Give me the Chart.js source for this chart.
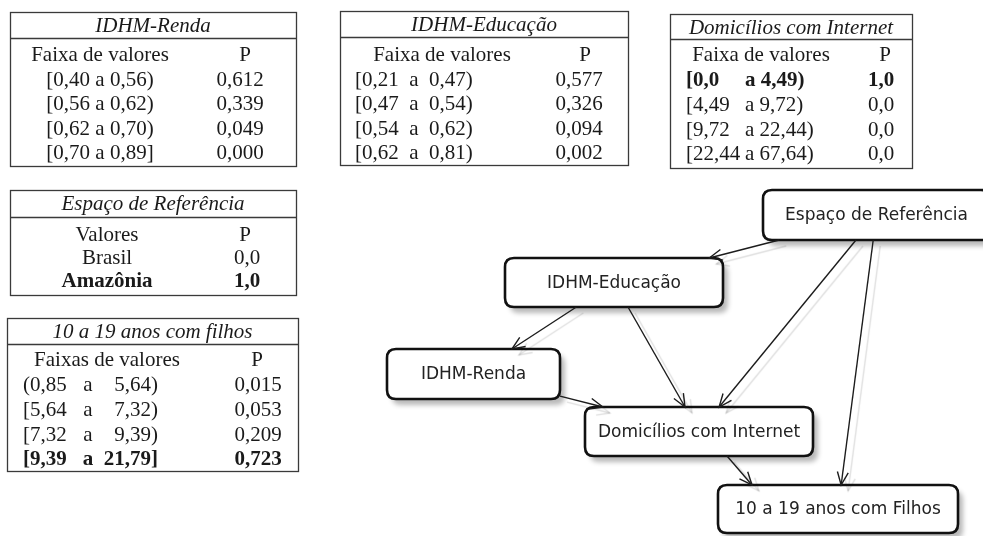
<!DOCTYPE html>
<html><head><meta charset="utf-8">
<script src="https://cdn.jsdelivr.net/npm/chart.js@4"></script>
<style>html,body{margin:0;padding:0;background:#fff;overflow:hidden}#wrap{width:983px;height:536px}</style>
</head><body><div id="wrap"><canvas id="c" width="983" height="536"></canvas></div>
<script>
// ---------------- DATA ----------------
const rendaFaixas = ['[0,40 a 0,56)', '[0,56 a 0,62)', '[0,62 a 0,70)', '[0,70 a 0,89]'];
const rendaP = [0.612, 0.339, 0.049, 0.000];
const educFaixas = ['[0,21  a  0,47)', '[0,47  a  0,54)', '[0,54  a  0,62)', '[0,62  a  0,81)'];
const educP = [0.577, 0.326, 0.094, 0.002];
const internetInicio = ['[0,0', '[4,49', '[9,72', '[22,44'];
const internetFim = ['a 4,49)', 'a 9,72)', 'a 22,44)', 'a 67,64)'];
const internetP = [1.0, 0.0, 0.0, 0.0];
const internetDestaque = 0;
const espacoValores = ['Brasil', 'Amazônia'];
const espacoP = [0.0, 1.0];
const espacoDestaque = 1;
const filhosInicio = ['(0,85', '[5,64', '[7,32', '[9,39'];
const filhosFim = ['5,64)', '7,32)', '9,39)', '21,79]'];
const filhosP = [0.015, 0.053, 0.209, 0.723];
const filhosDestaque = 3;
const nodeNames = ['Espaço de Referência', 'IDHM-Educação', 'IDHM-Renda', 'Domicílios com Internet', '10 a 19 anos com Filhos'];
const edges = [[0, 1], [0, 3], [0, 4], [1, 2], [1, 3], [2, 3], [3, 4]];

// ---------------- LAYOUT / STYLE ----------------
const f3 = v => v.toFixed(3).replace('.', ',');
const f1 = v => v.toFixed(1).replace('.', ',');
const SERIF = "'Liberation Serif', 'Times New Roman', serif";
const SANS = "'DejaVu Sans', sans-serif";
const FS = 21;

const nodeBoxes = [
  [763, 190, 990, 240],
  [505, 258, 723, 307],
  [387, 349, 560, 399],
  [585, 407, 813, 456],
  [718, 485, 958, 533]
];
const edgeOverride = { '3-4': [[727, 456], [752, 485]] };

const tableSpecs = [
  { title: 'IDHM-Renda', box: [10, 12, 296, 166], lineY: 38, titleY: 26, headY: 55, y0: 80, step: 24.5,
    head: [['Faixa de valores', 100, 'center'], ['P', 245, 'center']], n: 4, bold: -1,
    cells: i => [[rendaFaixas[i], 100, 'center'], [f3(rendaP[i]), 240, 'center']] },
  { title: 'IDHM-Educação', box: [340, 11, 628, 165], lineY: 37, titleY: 25, headY: 55, y0: 80, step: 24.5,
    head: [['Faixa de valores', 442, 'center'], ['P', 585, 'center']], n: 4, bold: -1,
    cells: i => [[educFaixas[i], 355, 'left'], [f3(educP[i]), 579, 'center']] },
  { title: 'Domicílios com Internet', box: [670, 14, 912, 168], lineY: 39, titleY: 28, headY: 55, y0: 81, step: 24.5,
    head: [['Faixa de valores', 761, 'center'], ['P', 885, 'center']], n: 4, bold: internetDestaque,
    cells: i => [[internetInicio[i], 686, 'left'], [internetFim[i], 745, 'left'], [f1(internetP[i]), 881, 'center']] },
  { title: 'Espaço de Referência', box: [10, 190, 296, 295], lineY: 217, titleY: 204, headY: 235, y0: 258, step: 24,
    head: [['Valores', 107, 'center'], ['P', 245, 'center']], n: 2, bold: espacoDestaque,
    cells: i => [[espacoValores[i], 107, 'center'], [f1(espacoP[i]), 247, 'center']] },
  { title: '10 a 19 anos com filhos', box: [7, 318, 298, 471], lineY: 344, titleY: 332, headY: 360, y0: 385, step: 25,
    head: [['Faixas de valores', 107, 'center'], ['P', 257, 'center']], n: 4, bold: filhosDestaque,
    cells: i => [[filhosInicio[i], 23, 'left'], ['a', 88, 'center'], [filhosFim[i], 158, 'right'], [f3(filhosP[i]), 258, 'center']] }
];

function center(b) { return [(b[0] + b[2]) / 2, (b[1] + b[3]) / 2]; }
function exitPoint(b, dx, dy) {
  const c = center(b), hw = (b[2] - b[0]) / 2, hh = (b[3] - b[1]) / 2;
  const tx = dx !== 0 ? hw / Math.abs(dx) : Infinity;
  const ty = dy !== 0 ? hh / Math.abs(dy) : Infinity;
  const t = Math.min(tx, ty);
  return [c[0] + dx * t, c[1] + dy * t];
}
function edgePoints(a, b) {
  const key = a + '-' + b;
  if (edgeOverride[key]) return edgeOverride[key];
  const ca = center(nodeBoxes[a]), cb = center(nodeBoxes[b]);
  const dx = cb[0] - ca[0], dy = cb[1] - ca[1];
  return [exitPoint(nodeBoxes[a], dx, dy), exitPoint(nodeBoxes[b], -dx, -dy)];
}

const datasets = edges.map(([a, b]) => {
  const p = edgePoints(a, b);
  return { label: nodeNames[a] + ' → ' + nodeNames[b], data: [{ x: p[0][0], y: p[0][1] }, { x: p[1][0], y: p[1][1] }],
    showLine: true, borderColor: '#1c1c1c', borderWidth: 1.4, pointRadius: 0, fill: false, tension: 0 };
});

function roundRect(ctx, x, y, w, h, r) {
  ctx.beginPath();
  ctx.moveTo(x + r, y); ctx.lineTo(x + w - r, y); ctx.quadraticCurveTo(x + w, y, x + w, y + r);
  ctx.lineTo(x + w, y + h - r); ctx.quadraticCurveTo(x + w, y + h, x + w - r, y + h);
  ctx.lineTo(x + r, y + h); ctx.quadraticCurveTo(x, y + h, x, y + h - r);
  ctx.lineTo(x, y + r); ctx.quadraticCurveTo(x, y, x + r, y); ctx.closePath();
}

const diagram = {
  id: 'diagram',
  beforeDatasetsDraw(chart) {
    const ctx = chart.ctx, X = v => chart.scales.x.getPixelForValue(v), Y = v => chart.scales.y.getPixelForValue(v);
    ctx.save();
    tableSpecs.forEach(t => {
      const [x0, y0, x1, y1] = t.box;
      ctx.strokeStyle = '#3a3a3a'; ctx.lineWidth = 1.3;
      ctx.strokeRect(X(x0) + 0.5, Y(y0) + 0.5, X(x1) - X(x0), Y(y1) - Y(y0));
      ctx.beginPath(); ctx.moveTo(X(x0), Y(t.lineY) + 0.5); ctx.lineTo(X(x1), Y(t.lineY) + 0.5); ctx.stroke();
      ctx.fillStyle = '#1a1a1a'; ctx.textBaseline = 'middle';
      ctx.font = 'italic ' + FS + 'px ' + SERIF; ctx.textAlign = 'center';
      ctx.fillText(t.title, X((x0 + x1) / 2), Y(t.titleY));
      ctx.font = FS + 'px ' + SERIF;
      t.head.forEach(h => { ctx.textAlign = h[2]; ctx.fillText(h[0], X(h[1]), Y(t.headY)); });
      for (let i = 0; i < t.n; i++) {
        ctx.font = (i === t.bold ? 'bold ' : '') + FS + 'px ' + SERIF;
        t.cells(i).forEach(c => { ctx.textAlign = c[2]; ctx.fillText(c[0], X(c[1]), Y(t.y0 + i * t.step)); });
      }
    });
    nodeBoxes.forEach((b, i) => {
      const x = X(b[0]), y = Y(b[1]), w = X(b[2]) - x, h = Y(b[3]) - y;
      ctx.save();
      ctx.shadowColor = 'rgba(0,0,0,0.28)'; ctx.shadowOffsetX = 5; ctx.shadowOffsetY = 6; ctx.shadowBlur = 5;
      roundRect(ctx, x, y, w, h, 9); ctx.fillStyle = '#fff'; ctx.fill();
      ctx.restore();
      roundRect(ctx, x, y, w, h, 9); ctx.strokeStyle = '#111'; ctx.lineWidth = 2.6; ctx.stroke();
      ctx.fillStyle = '#222'; ctx.font = '17px ' + SANS; ctx.textAlign = 'center'; ctx.textBaseline = 'middle';
      ctx.fillText(nodeNames[i], x + w / 2, y + h / 2 + 1);
    });
    ctx.restore();
  },
  beforeDatasetDraw(chart) {
    const ctx = chart.ctx; ctx.save();
    ctx.shadowColor = 'rgba(0,0,0,0.13)'; ctx.shadowOffsetX = 7; ctx.shadowOffsetY = 6; ctx.shadowBlur = 1;
  },
  afterDatasetDraw(chart, args) {
    const ctx = chart.ctx;
    const pts = chart.getDatasetMeta(args.index).data;
    const a = pts[0], b = pts[1];
    const ang = Math.atan2(b.y - a.y, b.x - a.x), L = 14, s = 0.40;
    ctx.strokeStyle = '#1c1c1c'; ctx.lineWidth = 1.4;
    ctx.beginPath();
    ctx.moveTo(b.x - L * Math.cos(ang - s), b.y - L * Math.sin(ang - s));
    ctx.lineTo(b.x, b.y);
    ctx.lineTo(b.x - L * Math.cos(ang + s), b.y - L * Math.sin(ang + s));
    ctx.stroke();
    ctx.restore();
  }
};

new Chart(document.getElementById('c'), {
  type: 'scatter',
  data: { datasets },
  options: {
    responsive: false, animation: false, devicePixelRatio: 1,
    layout: { padding: 0 },
    scales: {
      x: { type: 'linear', min: 0, max: 983, display: false },
      y: { type: 'linear', min: 0, max: 536, reverse: true, display: false }
    },
    plugins: { legend: { display: false }, tooltip: { enabled: false } },
    events: []
  },
  plugins: [diagram]
});
</script></body></html>
